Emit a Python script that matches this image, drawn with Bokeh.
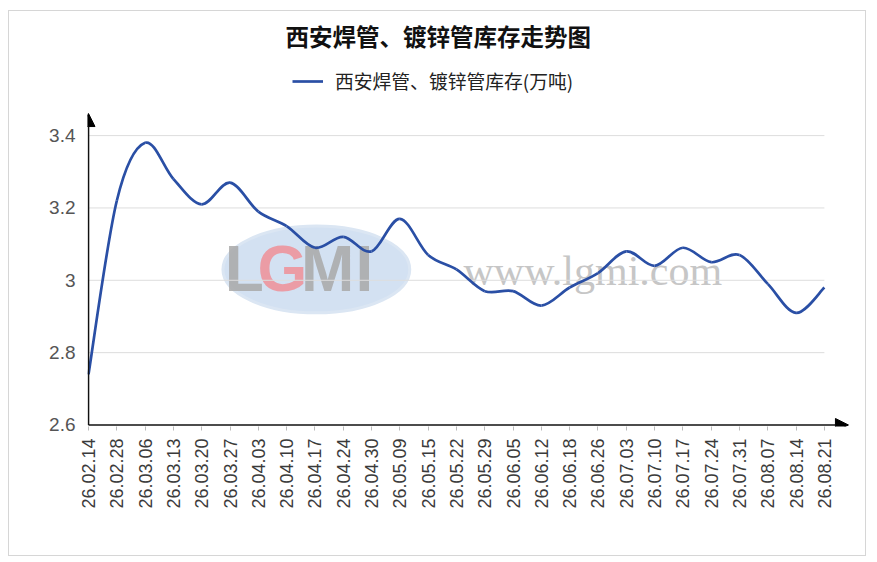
import numpy as np
from bokeh.plotting import figure
from bokeh.models import (Range1d, FixedTicker, Arrow, NormalHead, Label, Legend,
                          LegendItem, ColumnDataSource)
from bokeh.embed import file_html
from bokeh.resources import INLINE

title_text = "西安焊管、镀锌管库存走势图"
series_name = "西安焊管、镀锌管库存(万吨)"
dates = ["26.02.14", "26.02.28", "26.03.06", "26.03.13", "26.03.20", "26.03.27",
         "26.04.03", "26.04.10", "26.04.17", "26.04.24", "26.04.30", "26.05.09",
         "26.05.15", "26.05.22", "26.05.29", "26.06.05", "26.06.12", "26.06.18",
         "26.06.26", "26.07.03", "26.07.10", "26.07.17", "26.07.24", "26.07.31",
         "26.08.07", "26.08.14", "26.08.21"]
stock = [2.74, 3.22, 3.38, 3.28, 3.21, 3.27, 3.19, 3.15, 3.09, 3.12, 3.08, 3.17,
         3.07, 3.03, 2.97, 2.97, 2.93, 2.98, 3.02, 3.08, 3.04, 3.09, 3.05, 3.07,
         2.99, 2.91, 2.98]
y_ticks = [2.6, 2.8, 3.0, 3.2, 3.4]
y_tick_labels = ["2.6", "2.8", "3", "3.2", "3.4"]

n = len(dates)
xs = np.arange(n, dtype=float)
ys = np.array(stock, dtype=float)

PX = 28.23    # pixels per category step
PY = 360.0    # pixels per unit of stock
W, H = 858, 546
ML, MR, MB = 78, 10, 131
frame_w = (W - 2) - ML - MR
frame_h = (H - 2) - MB
x0 = -1.0 / PX
y0 = 2.6 - 1.5 / PY

p = figure(width=W, height=H, output_backend="svg", toolbar_location=None,
           x_range=Range1d(x0, x0 + frame_w / PX), y_range=Range1d(y0, y0 + frame_h / PY),
           min_border_left=ML, min_border_right=MR, min_border_top=0,
           min_border_bottom=MB)
p.margin = (10, 0, 0, 8)
p.styles = {"border": "1px solid #d6d6d6"}
p.outline_line_color = None
p.xgrid.visible = False
p.ygrid.visible = False
p.background_fill_color = "white"
p.border_fill_color = "white"

# watermark
p.ellipse(x=8.05, y=3.03, width=6.6, height=0.24, fill_color="#b5cdea",
          fill_alpha=0.6, line_color="#dbe6f3", line_width=3)
p.text(x=[5.5, 6.85, 8.45, 9.75], y=[3.03] * 4, text=["L", "G", "M", "I"],
       text_align="center", text_baseline="middle", text_font_size="64px",
       text_font_style="bold", text_color=["#a8a8a8", "#ef8f98", "#a8a8a8", "#a8a8a8"],
       text_alpha=0.85, text_font={"value": "Liberation Sans"})
p.text(x=[13.25], y=[3.025], text=["www.lgmi.com"], text_align="left",
       text_baseline="middle", text_font_size="42px", text_color="#c6c6c6",
       text_font={"value": "Liberation Serif"})

# grid lines
p.segment(x0=[0] * (len(y_ticks) - 1), x1=[n - 1] * (len(y_ticks) - 1),
          y0=y_ticks[1:], y1=y_ticks[1:], line_color="#dddddd", line_width=1)

# smooth curve through the data points (Catmull-Rom as cubic bezier)
P = np.vstack([xs, ys]).T
Pm = np.vstack([P[0], P, P[-1]])
c0 = P[:-1] + (Pm[2:-1] - Pm[0:-3]) / 6.0
c1 = P[1:] - (Pm[3:] - Pm[1:-2]) / 6.0
src = ColumnDataSource(dict(x0=xs[:-1], y0=ys[:-1], x1=xs[1:], y1=ys[1:],
                            cx0=c0[:, 0], cy0=c0[:, 1], cx1=c1[:, 0], cy1=c1[:, 1]))
curve = p.bezier(x0="x0", y0="y0", x1="x1", y1="y1", cx0="cx0", cy0="cy0",
                 cx1="cx1", cy1="cy1", source=src, line_color="#2a4fa5", line_width=2.7)

# axes
p.xaxis.ticker = FixedTicker(ticks=list(range(n)))
p.xaxis.major_label_overrides = {i: d for i, d in enumerate(dates)}
p.xaxis.major_label_orientation = np.pi / 2
p.xaxis.major_label_text_font = "Liberation Sans"
p.xaxis.major_label_text_font_size = "18px"
p.xaxis.major_label_text_color = "#3a3a3a"
p.xaxis.major_label_standoff = 8
p.xaxis.major_tick_in = 0
p.xaxis.major_tick_out = 4
p.xaxis.major_tick_line_color = "#bbbbbb"
p.xaxis.minor_tick_line_color = None
p.xaxis.axis_line_color = None

p.yaxis.ticker = FixedTicker(ticks=y_ticks)
p.yaxis.major_label_overrides = {t: l for t, l in zip(y_ticks, y_tick_labels)}
p.yaxis.major_label_text_font = "Liberation Sans"
p.yaxis.major_label_text_font_size = "19px"
p.yaxis.major_label_text_color = "#555555"
p.yaxis.major_label_standoff = 6
p.yaxis.major_tick_line_color = None
p.yaxis.minor_tick_line_color = None
p.yaxis.axis_line_color = None

# axis lines with arrow heads
p.add_layout(Arrow(end=NormalHead(size=13, fill_color="black", line_color="black"),
                   x_start=0, y_start=2.6, x_end=0, y_end=3.461,
                   line_color="#111111", line_width=1.6))
p.add_layout(Arrow(end=NormalHead(size=13, fill_color="black", line_color="black"),
                   x_start=0, y_start=2.6, x_end=26.85, y_end=2.6,
                   line_color="#111111", line_width=1.6))

# title
p.add_layout(Label(x=12.36, y=3.675, text=title_text, text_align="center",
                   text_baseline="middle", text_font="Noto Sans CJK SC",
                   text_font_size="23.5px", text_font_style="bold", text_color="#111111"))

# legend
legend = Legend(items=[LegendItem(label=series_name, renderers=[curve])],
                location=(205, 332), orientation="horizontal",
                border_line_color=None, background_fill_alpha=0,
                padding=0, margin=0, glyph_width=31, glyph_height=20,
                label_standoff=12, label_text_font="Noto Sans CJK SC",
                label_text_font_size="18.8px", label_text_color="#222222")
p.add_layout(legend, "center")

open("out.html", "w").write(file_html(p, INLINE))
